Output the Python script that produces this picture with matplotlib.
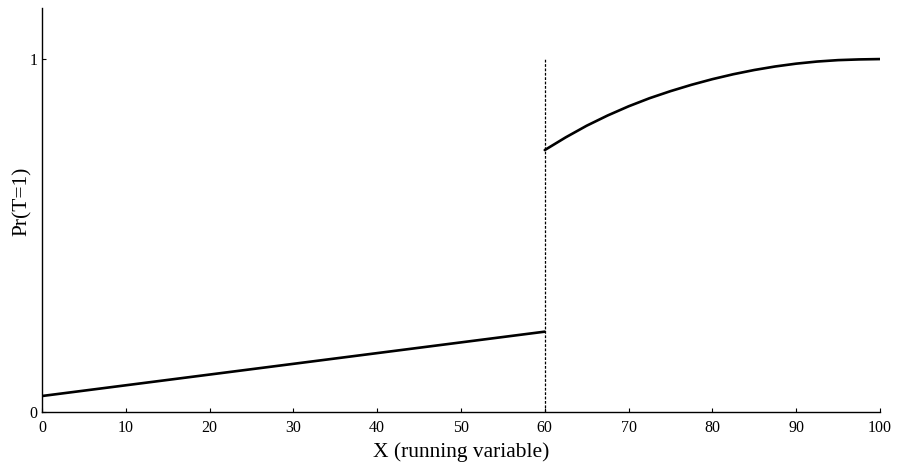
import matplotlib
matplotlib.use("Agg")
import matplotlib.pyplot as plt

plt.rcParams['font.family'] = ['Liberation Serif', 'DejaVu Serif']

# Probability of treatment below the cutoff (linear segment)
left_x = [0, 60]
left_p = [0.0445, 0.227]

# Probability of treatment above the cutoff
right_x = [60, 62.5, 65, 67.5, 70, 72.5, 75, 77.5, 80, 82.5, 85, 87.5, 90, 92.5, 95, 97.5, 100]
right_p = [0.742, 0.778, 0.811, 0.840, 0.866, 0.889, 0.909, 0.927, 0.943, 0.957,
           0.969, 0.979, 0.987, 0.993, 0.997, 0.999, 1.0]

cutoff = 60
x_ticks = [0, 10, 20, 30, 40, 50, 60, 70, 80, 90, 100]
y_ticks = [0, 1]

fig = plt.figure(figsize=(8.97, 4.67), dpi=100)
ax = fig.add_axes([0.0468, 0.1184, 0.9342, 0.8646])

ax.plot(left_x, left_p, color='black', lw=1.9, solid_capstyle='round')
ax.plot(right_x, right_p, color='black', lw=1.9, solid_capstyle='round')
ax.plot([cutoff, cutoff], [0, 1], color='black', lw=0.9, ls=(0, (2.2, 1.3)))

ax.set_xlim(0, 100)
ax.set_ylim(0, 1.145)
ax.set_xticks(x_ticks)
ax.set_yticks(y_ticks)
ax.tick_params(direction='in', length=3, width=0.8, labelsize=11.5)
ax.tick_params(axis='x', pad=6)
ax.tick_params(axis='y', pad=3)

for side in ('top', 'right'):
    ax.spines[side].set_visible(False)
for side in ('left', 'bottom'):
    ax.spines[side].set_linewidth(1.0)

ax.set_xlabel('X (running variable)', fontsize=15.5, labelpad=4.5)
ax.set_ylabel('Pr(T=1)', fontsize=15.5)
ax.yaxis.set_label_coords(-0.023, 0.522)
ax.yaxis.label.set_verticalalignment('center')

fig.savefig('out.png', dpi=100)
